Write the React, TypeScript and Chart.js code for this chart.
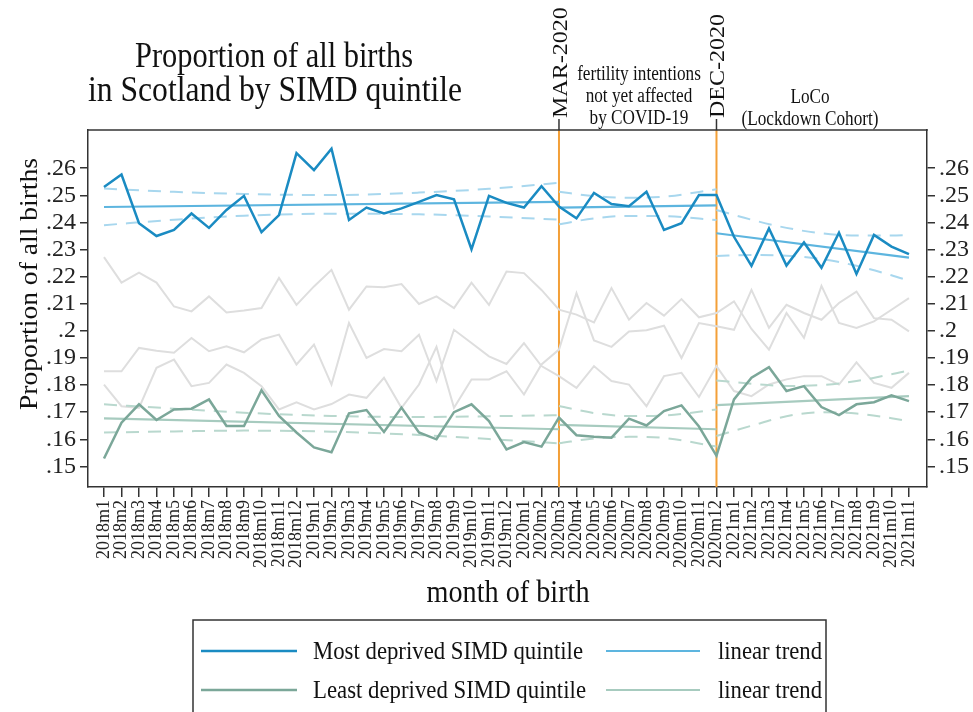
import React, { useEffect, useRef } from "react";
import { Chart, registerables } from "chart.js";

Chart.register(...registerables);

const months = [
  "2018m1", "2018m2", "2018m3", "2018m4", "2018m5", "2018m6", "2018m7", "2018m8", "2018m9", "2018m10", "2018m11", "2018m12",
  "2019m1", "2019m2", "2019m3", "2019m4", "2019m5", "2019m6", "2019m7", "2019m8", "2019m9", "2019m10", "2019m11", "2019m12",
  "2020m1", "2020m2", "2020m3", "2020m4", "2020m5", "2020m6", "2020m7", "2020m8", "2020m9", "2020m10", "2020m11", "2020m12",
  "2021m1", "2021m2", "2021m3", "2021m4", "2021m5", "2021m6", "2021m7", "2021m8", "2021m9", "2021m10", "2021m11",
];

const mostDeprived = [
  0.2531, 0.2577, 0.2397, 0.235, 0.2372, 0.2433, 0.238, 0.2446, 0.2498, 0.2364, 0.2427, 0.2656,
  0.2593, 0.2672, 0.2409, 0.2455, 0.2433, 0.2452, 0.2476, 0.2501, 0.2485, 0.2301, 0.2498, 0.2472,
  0.2455, 0.2534, 0.2459, 0.2415, 0.2509, 0.2468, 0.246, 0.2513, 0.2372, 0.2397, 0.2501, 0.2501,
  0.2347, 0.224, 0.2378, 0.2241, 0.2326, 0.2233, 0.2362, 0.221, 0.2354, 0.2311, 0.2283,
];

const leastDeprived = [
  0.1529, 0.1661, 0.1729, 0.1671, 0.171, 0.1713, 0.1747, 0.1649, 0.1649, 0.1781, 0.1686, 0.1625,
  0.157, 0.1552, 0.1696, 0.1708, 0.1627, 0.1717, 0.1625, 0.16, 0.17, 0.1729, 0.1667, 0.1563,
  0.159, 0.1573, 0.168, 0.1615, 0.1609, 0.1606, 0.1676, 0.1651, 0.1704, 0.1725, 0.1647, 0.1539,
  0.1747, 0.1827, 0.1866, 0.1778, 0.1796, 0.1719, 0.1689, 0.1729, 0.1737, 0.1762, 0.1741,
];

// other quintiles (light grey)
const quintileA = [
  0.2272, 0.2178, 0.2215, 0.2178, 0.209, 0.2072, 0.2127, 0.2068, 0.2075, 0.2084, 0.2195, 0.2096,
  0.2164, 0.2225, 0.2078, 0.2164, 0.2161, 0.2173, 0.2099, 0.2127, 0.2084, 0.2178, 0.2096, 0.2219,
  0.2213, 0.2151, 0.2078, 0.206, 0.2031, 0.2158, 0.2041, 0.2103, 0.2056, 0.2117, 0.205, 0.2066,
  0.2109, 0.2007, 0.1931, 0.2066, 0.1974, 0.2166, 0.2029, 0.2011, 0.2035, 0.2078, 0.2121,
];
const quintileB = [
  0.1851, 0.1851, 0.1937, 0.1927, 0.1919, 0.1974, 0.1925, 0.1943, 0.1921, 0.1968, 0.1986, 0.1876,
  0.1949, 0.1802, 0.2029, 0.19, 0.1933, 0.1925, 0.1986, 0.1815, 0.2004, 0.1955, 0.1906, 0.1878,
  0.1955, 0.187, 0.1833, 0.179, 0.187, 0.1815, 0.1802, 0.1722, 0.1833, 0.1845, 0.1756, 0.187,
  0.1778, 0.1759, 0.1802, 0.1821, 0.1833, 0.1833, 0.1802, 0.1884, 0.1808, 0.179, 0.1845,
];
const quintileC = [
  0.1802, 0.1722, 0.1716, 0.1864, 0.1894, 0.1796, 0.1808, 0.1876, 0.1845, 0.1796, 0.171, 0.1736,
  0.171, 0.173, 0.1765, 0.1753, 0.1827, 0.1716, 0.1802, 0.1941, 0.1716, 0.1821, 0.1821, 0.1851,
  0.1765, 0.1876, 0.1931, 0.2139, 0.1965, 0.1941, 0.1998, 0.2002, 0.2019, 0.19, 0.2029, 0.2017,
  0.2004, 0.2151, 0.2011, 0.2096, 0.2066, 0.2041, 0.2103, 0.2145, 0.2047, 0.2041, 0.1998,
];

// linear trends per period (start / end month)
const trendMonths = [["2018m1", "2020m3"], ["2020m3", "2020m12"], ["2020m12", "2021m11"]];
const mostTrend = [[0.2457, 0.2476], [0.2455, 0.2463], [0.236, 0.227]];
const leastTrend = [[0.1677, 0.1637], [0.1653, 0.1637], [0.1726, 0.1759]];

// confidence bands
const ciMonths = [
  ["2018m1", "2018m5", "2018m9", "2019m2", "2019m7", "2019m11", "2020m3"],
  ["2020m3", "2020m5", "2020m7", "2020m9", "2020m12"],
  ["2020m12", "2021m2", "2021m4", "2021m6", "2021m8", "2021m10", "2021m11"],
];
const mostUpper = [
  [0.2525, 0.2513, 0.2505, 0.2501, 0.2510, 0.2524, 0.2546],
  [0.2513, 0.2497, 0.2491, 0.2495, 0.2522],
  [0.2446, 0.241, 0.238, 0.236, 0.2352, 0.2352, 0.2354],
];
const mostLower = [
  [0.239, 0.241, 0.2425, 0.2432, 0.2430, 0.2422, 0.241],
  [0.2393, 0.2415, 0.2424, 0.2423, 0.2409],
  [0.2276, 0.228, 0.2277, 0.2265, 0.224, 0.2205, 0.2185],
];
const leastUpper = [
  [0.1729, 0.1713, 0.1698, 0.1686, 0.1682, 0.1685, 0.1689],
  [0.1723, 0.1697, 0.1686, 0.1688, 0.171],
  [0.1817, 0.1805, 0.1797, 0.18, 0.1815, 0.184, 0.1854],
];
const leastLower = [
  [0.1625, 0.1629, 0.1632, 0.1628, 0.1616, 0.1601, 0.1585],
  [0.1585, 0.1603, 0.1609, 0.1605, 0.1573],
  [0.1612, 0.165, 0.1685, 0.17, 0.1695, 0.1678, 0.1667],
];

const yTicks = [0.15, 0.16, 0.17, 0.18, 0.19, 0.2, 0.21, 0.22, 0.23, 0.24, 0.25, 0.26];
const eventMonths = ["2020m3", "2020m12"];
const eventLabels = ["MAR-2020", "DEC-2020"];

const BLUE = "#1a8bc2";
const BLUE_TREND = "#5db5df";
const BLUE_CI = "#a8d7ee";
const GREEN = "#7ba799";
const GREEN_TREND = "#a7cbbf";
const GREEN_CI = "#b9d8ce";
const GREY = "#dedede";
const ORANGE = "#f3a038";
const FRAME = "#333333";
const FONT = '"Liberation Serif", "Times New Roman", serif';

const idx = (m: string) => months.indexOf(m);
const series = (vals: number[]) => vals.map((v, i) => ({ x: i, y: v }));
const pts = (ms: string[], vals: number[]) => ms.map((m, i) => ({ x: idx(m), y: vals[i] }));

function drawText(
  ctx: CanvasRenderingContext2D,
  s: string,
  x: number,
  y: number,
  size: number,
  opts: { w?: number; sx?: number; align?: CanvasTextAlign; rot?: boolean; baseline?: CanvasTextBaseline; sq?: number } = {}
) {
  ctx.save();
  ctx.font = `${size}px ${FONT}`;
  ctx.fillStyle = "#111";
  ctx.textAlign = opts.align || "center";
  ctx.textBaseline = opts.baseline || "alphabetic";
  const m = ctx.measureText(s).width;
  const sx = opts.w ? opts.w / m : opts.sx || 1;
  ctx.translate(x, y);
  if (opts.rot) ctx.rotate(-Math.PI / 2);
  ctx.scale(sx, opts.sq || 1);
  ctx.fillText(s, 0, 0);
  ctx.restore();
}

function hline(ctx: CanvasRenderingContext2D, x1: number, x2: number, y: number, color: string, w: number) {
  ctx.save();
  ctx.strokeStyle = color;
  ctx.lineWidth = w;
  ctx.beginPath();
  ctx.moveTo(x1, y);
  ctx.lineTo(x2, y);
  ctx.stroke();
  ctx.restore();
}

const decorPlugin = {
  id: "decor",
  beforeDatasetsDraw(chart: any) {
    const { ctx, chartArea, scales } = chart;
    ctx.save();
    ctx.strokeStyle = ORANGE;
    ctx.lineWidth = 2;
    eventMonths.forEach((m) => {
      const x = scales.x.getPixelForValue(idx(m));
      ctx.beginPath();
      ctx.moveTo(x, chartArea.top);
      ctx.lineTo(x, chartArea.bottom);
      ctx.stroke();
    });
    ctx.restore();
  },
  afterDraw(chart: any) {
    const { ctx, chartArea, scales } = chart;
    // top frame
    hline(ctx, chartArea.left - 0.75, chartArea.right + 0.75, chartArea.top, FRAME, 1.5);
    // top ticks + event labels
    eventMonths.forEach((m, i) => {
      const x = scales.x.getPixelForValue(idx(m));
      ctx.save();
      ctx.strokeStyle = FRAME;
      ctx.lineWidth = 1.5;
      ctx.beginPath();
      ctx.moveTo(x, chartArea.top - 11);
      ctx.lineTo(x, chartArea.top);
      ctx.stroke();
      ctx.restore();
      drawText(ctx, eventLabels[i], x + 2, chartArea.top - 12, 24, { rot: true, align: "left", baseline: "middle", sq: 0.9 });
    });
    // titles
    drawText(ctx, "Proportion of all births", 274, 67, 36, { w: 278 });
    drawText(ctx, "in Scotland by SIMD quintile", 275, 101, 36, { w: 374 });
    drawText(ctx, "Proportion of all births", 37, 284, 28, { rot: true, w: 252, sq: 0.9 });
    drawText(ctx, "month of birth", 508, 602, 31, { w: 163 });
    // period annotations
    drawText(ctx, "fertility intentions", 639, 80, 20, { sx: 0.86 });
    drawText(ctx, "not yet affected", 639, 102, 20, { sx: 0.86 });
    drawText(ctx, "by COVID-19", 639, 124, 20, { sx: 0.86 });
    drawText(ctx, "LoCo", 810, 103, 20, { sx: 0.86 });
    drawText(ctx, "(Lockdown Cohort)", 810, 125, 20, { sx: 0.86 });
    // legend
    ctx.save();
    ctx.strokeStyle = FRAME;
    ctx.lineWidth = 1.5;
    ctx.strokeRect(193, 620, 633, 120);
    ctx.restore();
    hline(ctx, 201, 297, 651, BLUE, 2.5);
    drawText(ctx, "Most deprived SIMD quintile", 313, 659, 26, { w: 270, align: "left" });
    hline(ctx, 606, 700, 651, BLUE_TREND, 2.2);
    drawText(ctx, "linear trend", 718, 659, 26, { w: 104, align: "left" });
    hline(ctx, 201, 297, 690, GREEN, 2.5);
    drawText(ctx, "Least deprived SIMD quintile", 313, 698, 26, { w: 273, align: "left" });
    hline(ctx, 606, 700, 690, GREEN_TREND, 2.2);
    drawText(ctx, "linear trend", 718, 698, 26, { w: 104, align: "left" });
  },
};

function buildDatasets() {
  const ds: any[] = [];
  const base = { pointRadius: 0, fill: false, borderCapStyle: "butt" };
  ds.push({ ...base, label: "Most deprived SIMD quintile", data: series(mostDeprived), borderColor: BLUE, borderWidth: 2.5, order: 1 });
  ds.push({ ...base, label: "Least deprived SIMD quintile", data: series(leastDeprived), borderColor: GREEN, borderWidth: 2.5, order: 2 });
  trendMonths.forEach((tm, k) => {
    ds.push({ ...base, label: "linear trend", data: pts(tm, mostTrend[k]), borderColor: BLUE_TREND, borderWidth: 2.2, order: 4 });
    ds.push({ ...base, label: "linear trend", data: pts(tm, leastTrend[k]), borderColor: GREEN_TREND, borderWidth: 2.2, order: 4 });
  });
  ciMonths.forEach((cm, k) => {
    const ci = { ...base, borderWidth: 2, borderDash: [13, 9], cubicInterpolationMode: "monotone", order: 5 };
    ds.push({ ...ci, label: "ci", data: pts(cm, mostUpper[k]), borderColor: BLUE_CI });
    ds.push({ ...ci, label: "ci", data: pts(cm, mostLower[k]), borderColor: BLUE_CI });
    ds.push({ ...ci, label: "ci", data: pts(cm, leastUpper[k]), borderColor: GREEN_CI });
    ds.push({ ...ci, label: "ci", data: pts(cm, leastLower[k]), borderColor: GREEN_CI });
  });
  [quintileA, quintileB, quintileC].forEach((q, k) => {
    ds.push({ ...base, label: "quintile " + (k + 2), data: series(q), borderColor: GREY, borderWidth: 2, order: 9 });
  });
  return ds;
}

const yTickLabel = (v: any) => {
  const s = Number(v).toFixed(2).replace(/^0/, "");
  return s.replace(/0$/, "");
};

export default function App() {
  const ref = useRef<HTMLCanvasElement>(null);
  useEffect(() => {
    if (!ref.current) return;
    Chart.defaults.font.family = FONT;
    const yMin = 0.1424;
    const yMax = 0.2741;
    const yAxis = (pos: "left" | "right", width: number) => ({
      type: "linear",
      position: pos,
      min: yMin,
      max: yMax,
      afterBuildTicks: (s: any) => {
        s.ticks = yTicks.map((v) => ({ value: v }));
      },
      afterFit: (s: any) => {
        s.width = width;
      },
      ticks: { autoSkip: false, callback: yTickLabel, font: { size: 24, family: FONT }, color: "#222", padding: 4 },
      grid: { drawOnChartArea: false, drawTicks: true, tickLength: 8, color: FRAME, lineWidth: 1.5 },
      border: { display: true, color: FRAME, width: 1.5 },
    });
    const chart = new Chart(ref.current, {
      type: "line",
      data: { datasets: buildDatasets() },
      options: {
        animation: false,
        responsive: false,
        layout: { padding: { top: 130, left: 0, right: 0, bottom: 0 } },
        plugins: { legend: { display: false }, tooltip: { enabled: false }, title: { display: false } },
        scales: {
          x: {
            type: "linear",
            min: -0.914,
            max: 47.03,
            afterBuildTicks: (s: any) => {
              s.ticks = months.map((_, i) => ({ value: i }));
            },
            afterFit: (s: any) => {
              s.height = 225;
            },
            ticks: {
              autoSkip: false,
              maxRotation: 90,
              minRotation: 90,
              padding: 3,
              color: "#222",
              font: { size: 18, family: FONT },
              callback: (v: any) => months[Number(v)] ?? "",
            },
            grid: { drawOnChartArea: false, drawTicks: true, tickLength: 10, color: FRAME, lineWidth: 1.5 },
            border: { display: true, color: FRAME, width: 1.5 },
          },
          y: yAxis("left", 88),
          y2: yAxis("right", 46),
        },
      } as any,
      plugins: [decorPlugin],
    });
    return () => chart.destroy();
  }, []);
  return (
    <div style={{ position: "fixed", left: 0, top: 0, width: 973, height: 712, background: "#fff" }}>
      <canvas ref={ref} width={973} height={712} style={{ width: 973, height: 712, display: "block" }} />
    </div>
  );
}
